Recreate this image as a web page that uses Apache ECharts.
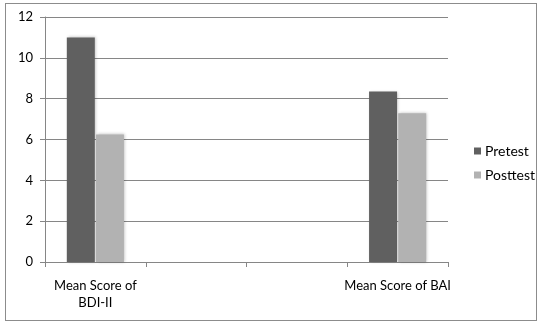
<!DOCTYPE html>
<html>
<head>
<meta charset="utf-8">
<script src="https://cdn.jsdelivr.net/npm/echarts@6/dist/echarts.min.js"></script>
<style>
  html, body { margin: 0; padding: 0; background: #fff; }
  #frame { position: absolute; left: 5px; top: 3px; width: 532px; height: 318px; border: 1px solid #8c8c8c; box-sizing: border-box; }
  #chart { width: 541px; height: 325px; position: absolute; left: 0; top: 0; }
</style>
</head>
<body>
<div id="frame"></div>
<div id="chart"></div>
<script>
const categories = ['Mean Score of\nBDI-II', '', '', 'Mean Score of BAI']
const pretest = [11.0, null, null, 8.35]
const posttest = [6.25, null, null, 7.28]
const yTicks = [0, 2, 4, 6, 8, 10, 12]

const myChart = echarts.init(document.getElementById('chart'))
const font = 'Lato, "Open Sans", sans-serif'
const barShadow = { shadowBlur: 3, shadowColor: 'rgba(0,0,0,0.25)', shadowOffsetX: 1, shadowOffsetY: 0 }

const option = {
  animation: false,
  backgroundColor: 'transparent',
  legend: {
    orient: 'vertical',
    left: 469, top: 139,
    icon: 'rect', itemWidth: 7, itemHeight: 7, itemGap: 10,
    textStyle: { color: '#000', fontSize: 14, fontFamily: font, padding: [0, 0, 0, -1] },
    data: ['Pretest', 'Posttest']
  },
  grid: { left: 45, right: 93, top: 17, bottom: 63, containLabel: false },
  xAxis: {
    type: 'category',
    data: categories,
    axisLine: { lineStyle: { color: '#868686', width: 1 } },
    axisTick: { show: true, interval: 0, length: 5, lineStyle: { color: '#868686' } },
    axisLabel: { interval: 0, color: '#000', fontSize: 13, fontFamily: font, margin: 15, lineHeight: 17 }
  },
  yAxis: {
    type: 'value',
    min: yTicks[0], max: yTicks[yTicks.length - 1], interval: 2,
    axisLine: { show: true, lineStyle: { color: '#868686' } },
    axisTick: { show: true, length: 5, lineStyle: { color: '#868686' } },
    axisLabel: { color: '#000', fontSize: 13, fontFamily: font, margin: 12 },
    splitLine: { lineStyle: { color: '#868686', width: 1 } }
  },
  series: [
    {
      name: 'Pretest', type: 'bar', barWidth: 28, barGap: '4%',
      data: pretest,
      itemStyle: Object.assign({ color: '#606060' }, barShadow)
    },
    {
      name: 'Posttest', type: 'bar', barWidth: 28,
      data: posttest,
      itemStyle: Object.assign({ color: '#b2b2b2' }, barShadow)
    }
  ]
}
myChart.setOption(option)
</script>
</body>
</html>
